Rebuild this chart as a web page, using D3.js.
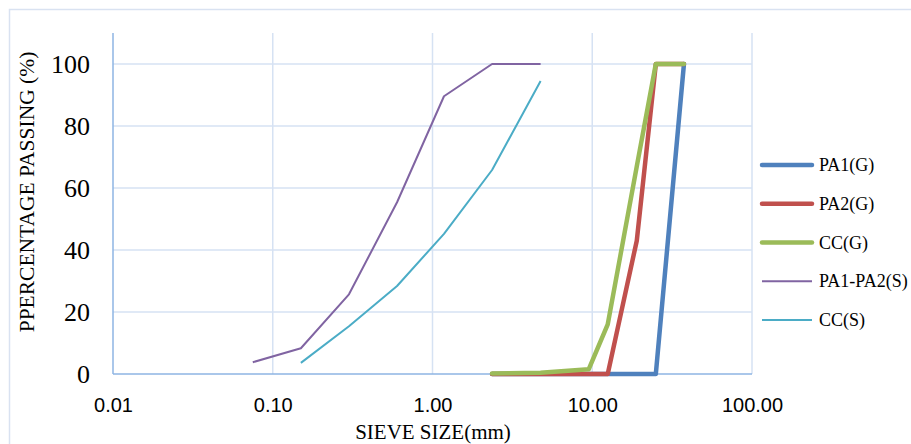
<!DOCTYPE html>
<html>
<head>
<meta charset="utf-8">
<script src="https://cdn.jsdelivr.net/npm/d3@7/dist/d3.min.js"></script>
<style>
  html, body { margin: 0; padding: 0; background: #fff; overflow: hidden; }
  svg { display: block; }
</style>
</head>
<body>
<svg id="chart" width="911" height="444"></svg>
<script>
// ---- Data ----
const gravelSizes = [2.36, 4.75, 9.5, 12.5, 19, 25, 37.5];
const pa1G = [0, 0, 0, 0, 0, 0, 100];
const pa2G = [0, 0, 0, 0, 43, 100, 100];
const ccG  = [0.2, 0.4, 1.5, 16, 67, 100, 100];

const sandSizesPA = [0.075, 0.15, 0.3, 0.6, 1.18, 2.36, 4.75];
const pa1pa2S = [3.8, 8.3, 25.7, 55.4, 89.6, 100, 100];
const sandSizesCC = [0.15, 0.3, 0.6, 1.18, 2.36, 4.75];
const ccS = [3.6, 15.4, 28.4, 45.2, 65.8, 94.5];

const xTicks = [0.01, 0.1, 1, 10, 100];
const yTicks = [0, 20, 40, 60, 80, 100];

const seriesNames = ["PA1(G)", "PA2(G)", "CC(G)", "PA1-PA2(S)", "CC(S)"];
const seriesColors = ["#4f81bd", "#c0504d", "#9bbb59", "#8064a2", "#4bacc6"];
const seriesWidths = [4.5, 4.5, 4.5, 2, 2];

const series = [
  { name: seriesNames[0], xs: gravelSizes, ys: pa1G },
  { name: seriesNames[1], xs: gravelSizes, ys: pa2G },
  { name: seriesNames[2], xs: gravelSizes, ys: ccG },
  { name: seriesNames[3], xs: sandSizesPA, ys: pa1pa2S },
  { name: seriesNames[4], xs: sandSizesCC, ys: ccS }
];

// ---- Layout ----
const svg = d3.select("#chart");
const pLeft = 113, pRight = 752, pTop = 33, pBottom = 374;

const x = d3.scaleLog().domain([0.01, 100]).range([pLeft, pRight]);
const y = d3.scaleLinear().domain([0, 110]).range([pBottom, pTop]);

// outer frame
svg.append("rect")
  .attr("x", 9.5).attr("y", 9.5)
  .attr("width", 960).attr("height", 480)
  .attr("fill", "none").attr("stroke", "#d9e2f1").attr("stroke-width", 1.5);

// grid
const grid = svg.append("g");
grid.selectAll("line.h").data(yTicks.filter(d => d > 0)).join("line")
  .attr("x1", pLeft).attr("x2", pRight)
  .attr("y1", d => y(d)).attr("y2", d => y(d))
  .attr("stroke", "#d6e2f3").attr("stroke-width", 1.5);
grid.selectAll("line.v").data(xTicks.filter(d => d > 0.01)).join("line")
  .attr("x1", d => x(d)).attr("x2", d => x(d))
  .attr("y1", pTop).attr("y2", pBottom)
  .attr("stroke", "#d6e2f3").attr("stroke-width", 1.5);

// axes lines
svg.append("line").attr("x1", pLeft).attr("x2", pLeft).attr("y1", pTop).attr("y2", pBottom)
  .attr("stroke", "#8eb4e3").attr("stroke-width", 1.5);
svg.append("line").attr("x1", pLeft).attr("x2", pRight).attr("y1", pBottom).attr("y2", pBottom)
  .attr("stroke", "#8eb4e3").attr("stroke-width", 1.5);

// y tick labels
const yAxis = d3.axisLeft(y).tickValues(yTicks).tickSize(0).tickPadding(0).tickFormat(d3.format("d"));
const gy = svg.append("g").attr("transform", `translate(${pLeft - 23},0)`).call(yAxis);
gy.select(".domain").remove();
gy.selectAll("text")
  .attr("font-family", "'Liberation Serif', 'Times New Roman', serif")
  .attr("font-size", 26).attr("fill", "#000").attr("dy", "0.33em");

// x tick labels
const xAxis = d3.axisBottom(x).tickValues(xTicks).tickSize(0).tickPadding(0).tickFormat(d3.format(".2f"));
const gx = svg.append("g").attr("transform", `translate(0,${pBottom + 24})`).call(xAxis);
gx.select(".domain").remove();
gx.selectAll("text")
  .attr("font-family", "'Liberation Sans', Arial, sans-serif")
  .attr("font-size", 20).attr("fill", "#000").attr("dy", "0.71em");

// axis titles
svg.append("text")
  .attr("x", 433).attr("y", 439)
  .attr("text-anchor", "middle")
  .attr("font-family", "'Liberation Serif', 'Times New Roman', serif")
  .attr("font-size", 21).attr("fill", "#000")
  .text("SIEVE SIZE(mm)");

svg.append("text")
  .attr("transform", "translate(34,192) rotate(-90)")
  .attr("text-anchor", "middle")
  .attr("font-family", "'Liberation Serif', 'Times New Roman', serif")
  .attr("font-size", 21.5).attr("fill", "#000")
  .text("PPERCENTAGE PASSING (%)");

// lines
const line = d3.line().x(d => x(d[0])).y(d => y(d[1]));
const drawOrder = [3, 4, 0, 1, 2];
drawOrder.forEach(i => {
  const s = series[i];
  svg.append("path")
    .datum(s.xs.map((v, j) => [v, s.ys[j]]))
    .attr("d", line)
    .attr("fill", "none")
    .attr("stroke", seriesColors[i])
    .attr("stroke-width", seriesWidths[i])
    .attr("stroke-linejoin", "round")
    .attr("stroke-linecap", i < 3 ? "round" : "butt");
});

// legend
const legendY = d3.scaleLinear().domain([0, 4]).range([165, 320]);
const lg = svg.append("g");
seriesNames.forEach((n, i) => {
  const yy = legendY(i);
  lg.append("line")
    .attr("x1", 762).attr("x2", 812).attr("y1", yy).attr("y2", yy)
    .attr("stroke", seriesColors[i]).attr("stroke-width", i < 3 ? 4.5 : 2)
    .attr("stroke-linecap", i < 3 ? "round" : "butt");
  lg.append("text")
    .attr("x", 819).attr("y", yy + 6)
    .attr("font-family", "'Liberation Serif', 'Times New Roman', serif")
    .attr("font-size", 18).attr("fill", "#000")
    .text(n);
});
</script>
</body>
</html>
